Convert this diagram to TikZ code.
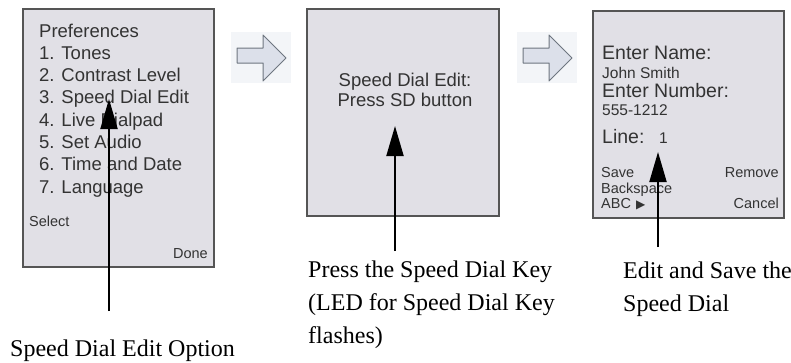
\documentclass[tikz,border=0pt]{standalone}
\usepackage{fontspec}
\setmainfont{Liberation Serif}
\newfontfamily\arialf{Liberation Sans}
\newfontfamily\dejavuf{DejaVu Sans}
\usetikzlibrary{arrows.meta}
\definecolor{scrfill}{HTML}{E1E0E6}
\definecolor{scrdraw}{HTML}{555555}
\definecolor{scrtext}{HTML}{333333}
\definecolor{icobg}{HTML}{F3F5F8}
\definecolor{icofill}{HTML}{DCE0EA}
\definecolor{icodraw}{HTML}{6E7680}
\tikzset{
  screen/.style={draw=scrdraw, fill=scrfill, line width=1.3pt},
  bigtxt/.style={font=\arialf\fontsize{18.5}{20}\selectfont, text=scrtext, anchor=base west, inner sep=0pt},
  bigtxtb/.style={font=\arialf\fontsize{19.5}{21}\selectfont, text=scrtext, anchor=base west, inner sep=0pt},
  midtxt/.style={font=\arialf\fontsize{15.5}{17}\selectfont, text=scrtext, anchor=base west, inner sep=0pt},
  smalltxt/.style={font=\arialf\fontsize{14.5}{16}\selectfont, text=scrtext, anchor=base west, inner sep=0pt},
  caption/.style={font=\fontsize{24}{33}\selectfont, text=black, anchor=base west, inner sep=0pt},
  pointer/.style={line width=2pt, -{Triangle[length=30pt,width=17pt]}},
  iconbg/.style={fill=icobg, draw=none},
  blockarrow/.style={fill=icofill, draw=icodraw, line width=1pt, line join=round},
}
\begin{document}
\begin{tikzpicture}[x=1pt, y=-1pt]
\useasboundingbox (0,0) rectangle (791,362);

% screens
\draw[screen] (23,9) rectangle (214,267);
\coordinate (scr1) at (118.5,138);
\draw[screen] (307,9) rectangle (499,216);
\coordinate (scr2) at (403,112.5);
\draw[screen] (593,11) rectangle (784,218);
\coordinate (scr3) at (688.5,114.5);

% screen 1 text
\node[bigtxt] (t10) at (39,37) {Preferences};
\node[bigtxt] (t11) at (39,59.3) {1. Tones};
\node[bigtxt] (t12) at (39,81.6) {2. Contrast Level};
\node[bigtxt] (t13) at (39,103.9) {3. Speed Dial Edit};
\node[bigtxt] (t14) at (39,126.2) {4. Live Dialpad};
\node[bigtxt] (t15) at (39,148.5) {5. Set Audio};
\node[bigtxt] (t16) at (39,170.8) {6. Time and Date};
\node[bigtxt] (t17) at (39,193.1) {7. Language};
\node[smalltxt] (sel) at (29,226) {Select};
\node[smalltxt, anchor=base east] (done) at (208,258) {Done};

% screen 2 text
\node[bigtxt, anchor=base] (t21) at (405,86) {Speed Dial Edit:};
\node[bigtxt, anchor=base] (t22) at (405,106) {Press SD button};

% screen 3 text
\node[bigtxtb] (t31) at (602,59) {Enter Name:};
\node[midtxt] (t32) at (602,78) {John Smith};
\node[bigtxtb] (t33) at (602,97) {Enter Number:};
\node[midtxt] (t34) at (602,115) {555-1212};
\node[bigtxtb] (t35) at (602,143) {Line:};
\node[midtxt] (t36) at (659,143) {1};
\node[smalltxt] (save) at (601,177) {Save};
\node[smalltxt, anchor=base east] (remove) at (779,177) {Remove};
\node[smalltxt] (bksp) at (601,193) {Backspace};
\node[smalltxt] (abc) at (601,208) {ABC\hspace{5pt}{\dejavuf\fontsize{12}{14}\selectfont ▶}};
\node[smalltxt, anchor=base east] (cancel) at (779,208) {Cancel};

% flow icons
\fill[iconbg] (231,32) rectangle (291,83);
\coordinate (ico1) at (261,57.5);
\draw[blockarrow] (237,48) -- (263,48) -- (263,35) -- (286,58) -- (263,81) -- (263,63) -- (237,63) -- cycle;
\fill[iconbg] (517,32) rectangle (577,83);
\coordinate (ico2) at (547,57.5);
\draw[blockarrow] (523,48) -- (549,48) -- (549,35) -- (572,58) -- (549,81) -- (549,63) -- (523,63) -- cycle;

% captions
\node[caption] (cap1) at (10,356) {Speed Dial Edit Option};
\node[caption] (cap2a) at (308,277) {Press the Speed Dial Key};
\node[caption] (cap2b) at (308,310) {(LED for Speed Dial Key};
\node[caption] (cap2c) at (308,343) {flashes)};
\node[caption] (cap3a) at (623,278) {Edit and Save the};
\node[caption] (cap3b) at (623,311) {Speed Dial};

% pointers
\coordinate (p1tail) at (109,311);
\coordinate (p1tip) at (109,99);
\coordinate (p2tail) at (395,251);
\coordinate (p2tip) at (395,126);
\coordinate (p3tail) at (658,247);
\coordinate (p3tip) at (658,152);
\draw[pointer] (p1tail) -- (p1tip);
\draw[pointer] (p2tail) -- (p2tip);
\draw[pointer] (p3tail) -- (p3tip);
\end{tikzpicture}
\end{document}
